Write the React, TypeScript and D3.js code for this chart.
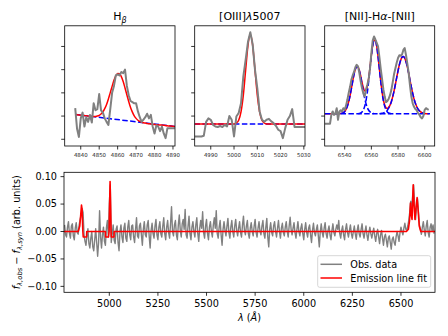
import React from 'react';
import * as d3 from 'd3';

type Pt = [number, number];

const GRAY = '#808080';
const RED = '#ff0000';
const BLUE = '#0000ff';
const FONT = 'DejaVu Sans, Verdana, sans-serif';

// ---------- H-beta window (1 A pixels from hbStart) ----------
const hbStart = 4837;
const hbObs = [
  1.34, 0.45, 0.1, 0.9, 1.15, 0.55, 0.95, 0.75, 1.05, 0.72,
  1.55, 1.25, 1.3, 1.95, 1.25, 1.15, 0.9, 0.75, 0.62, 1.3,
  2.0, 2.3, 2.75, 2.8, 2.75, 2.9, 2.85, 3.0, 2.3, 1.9,
  1.65, 1.6, 1.55, 1.55, 1.2, 0.95, 0.75, 0.85, 0.95, 1.1,
  0.9, 1.05, 0.55, 0.25, 0.6, 0.55, 0.35, 0.55, 0.25, 0.05,
  0.48, 0.48, 0.48, 0.48, 0.48,
];
const hbFit = [
  1.07, 1.06, 1.05, 1.04, 1.03, 1.02, 1.01, 1.0, 0.99, 0.985,
  0.98, 0.985, 1.0, 1.03, 1.09, 1.18, 1.32, 1.5, 1.74, 2.01,
  2.28, 2.54, 2.73, 2.83, 2.82, 2.7, 2.49, 2.21, 1.92, 1.63,
  1.37, 1.17, 1.01, 0.9, 0.82, 0.77, 0.73, 0.71, 0.7, 0.68,
  0.67, 0.66, 0.65, 0.64, 0.63, 0.62, 0.62, 0.61, 0.6, 0.59,
  0.58, 0.57, 0.57, 0.56, 0.55,
];
const hbContWave = [4837, 4891];
const hbCont = [1.07, 0.55];
const hbTicks = [4840, 4850, 4860, 4870, 4880, 4890];

// ---------- [OIII] 5007 window ----------
const o3Start = 4983;
const o3Obs = [
  0.12, 0.12, 0.12, 0.12, 0.15, 0.75, 0.9, 0.84,
  0.62, 0.55, 0.53, 0.57, 0.53, 0.62, 0.55, 1.0, 0.84, 0.12,
  0.98, 1.13, 1.55, 2.71, 3.43, 4.2, 4.61, 4.1, 3.0, 2.2,
  1.2, 0.84, 0.75, 0.84, 0.88, 0.77, 0.7, 0.58, 0.41, 0.35,
  0.05, 0.48, 0.84, 1.0, 1.3, 0.53, 0.53, 0.53, 0.53, 0.53, 0.53,
];
const o3Fit = [
  0.655, 0.655, 0.655, 0.655, 0.655, 0.655, 0.655, 0.655, 0.655,
  0.655, 0.655, 0.655, 0.655, 0.655, 0.655, 0.655, 0.655,
  0.66, 0.7, 0.82, 1.18, 1.9, 2.99, 4.05, 4.51, 4.05, 2.99, 1.9, 1.18, 0.82, 0.7, 0.66,
  0.655, 0.655, 0.655, 0.655, 0.655, 0.655, 0.655, 0.655, 0.655,
  0.655, 0.655, 0.655, 0.655, 0.655, 0.655, 0.655, 0.655,
];
const o3ContWave = [4983, 5031];
const o3Cont = [0.655, 0.655];
const o3Ticks = [4990, 5000, 5010, 5020, 5030];

// ---------- [NII]-Halpha-[NII] window ----------
const haStart = 6525;
const haObs = [
  0.67, 0.67, 0.67, 0.67, 0.67,
  1.06, 1.2, 1.05, 1.1, 1.34, 0.84, 1.2, 1.25, 1.2, 1.34,
  1.27, 1.45, 1.7, 2.0, 2.25, 2.56, 2.75, 2.9, 3.1, 3.21,
  3.14, 2.85, 2.5, 2.2, 1.97, 1.84, 2.15, 2.35, 2.6, 3.05,
  3.71, 4.25, 4.43, 4.3, 4.15, 4.0, 3.55, 3.05, 2.6, 2.15,
  1.84, 1.6, 1.65, 1.75, 1.9, 2.13, 2.45, 2.8, 3.05, 3.3,
  3.5, 3.62, 3.6, 3.65, 3.85, 3.93, 3.62, 3.25, 2.85, 2.3,
  1.84, 1.55, 1.4, 1.3, 1.25, 1.13, 1.06, 0.95, 0.9, 1.0,
  1.27, 1.34, 1.3, 1.27,
];
const haFit = [
  1.1, 1.1, 1.1, 1.1, 1.1, 1.1, 1.1, 1.1, 1.1, 1.1, 1.1, 1.1,
  1.11, 1.125, 1.15, 1.2, 1.29, 1.42, 1.62, 1.87, 2.18, 2.5,
  2.8, 3.02, 3.13, 3.12, 2.96, 2.73, 2.45, 2.22, 2.08, 2.1,
  2.29, 2.65, 3.12, 3.61, 4.03, 4.27, 4.26, 4.01, 3.57, 3.04,
  2.51, 2.05, 1.7, 1.48, 1.36, 1.33, 1.38, 1.47, 1.63, 1.83,
  2.08, 2.36, 2.66, 2.95, 3.21, 3.41, 3.54, 3.57, 3.5, 3.34,
  3.11, 2.84, 2.54, 2.25, 1.98, 1.74, 1.55, 1.41, 1.3, 1.225,
  1.176, 1.144, 1.124, 1.113, 1.105, 1.1, 1.1,
];
const haContWave = [6525, 6604];
const haCont = [1.1, 1.1];
const n2aStart = 6537;
const n2aComp = [
  1.111, 1.125, 1.152, 1.2, 1.29, 1.42, 1.62, 1.87, 2.18, 2.5, 2.8, 3.02, 3.13,
  3.11, 2.95, 2.69, 2.37, 2.05, 1.76, 1.53, 1.36, 1.25, 1.18, 1.14, 1.118, 1.108,
];
const haCompStart = 6550;
const haComp = [
  1.105, 1.114, 1.135, 1.18, 1.267, 1.42, 1.67, 2.03, 2.5, 3.04, 3.57, 4.01, 4.26,
  4.26, 4.01, 3.57, 3.04, 2.5, 2.03, 1.67, 1.42, 1.267, 1.18, 1.135, 1.114, 1.105,
];
const n2bStart = 6566;
const n2bComp = [
  1.104, 1.109, 1.117, 1.131, 1.155, 1.193, 1.253, 1.34, 1.46, 1.62, 1.83, 2.08,
  2.36, 2.66, 2.95, 3.21, 3.41, 3.54, 3.57, 3.5, 3.34, 3.11, 2.84, 2.54, 2.25,
  1.98, 1.74, 1.55, 1.41, 1.3, 1.225, 1.176, 1.144, 1.124, 1.113,
];
const haTicks = [6540, 6560, 6580, 6600];

// ---------- residual spectrum (5 A steps from resStart) ----------
const resStart = 4770;
const resStep = 5;
const resObs = [
  0.012, -0.006, -0.01, 0.008, 0.018, -0.004, -0.012, 0.01, 0.014, -0.008, -0.015, 0.006, 0.016, -0.002, -0.005, 0.012, 0.022, 0.03, 0.042, 0.035,
  -0.005, -0.018, -0.025, -0.008, 0.005, -0.022, -0.03, -0.012, 0.0, -0.028, -0.035, -0.015, 0.005, -0.02, -0.045, -0.02, 0.038, -0.01, -0.03, -0.006,
  0.008, -0.018, -0.025, 0.006, 0.02, -0.01, 0.05, 0.085, -0.02, -0.005, 0.012, -0.016, -0.022, 0.004, 0.01, -0.02, -0.035, 0.0, 0.012, -0.01,
  -0.02, 0.006, 0.015, -0.012, -0.018, 0.008, 0.02, -0.006, -0.015, 0.01, 0.012, -0.01, -0.02, 0.004, 0.025, -0.008, -0.012, 0.01, 0.015, -0.006,
  -0.025, 0.004, 0.018, -0.006, -0.01, 0.012, 0.02, -0.008, -0.03, 0.002, 0.015, -0.004, -0.012, 0.01, 0.022, -0.006, -0.015, 0.008, 0.018, -0.004,
  -0.01, 0.01, 0.025, -0.004, -0.015, 0.008, 0.02, -0.002, -0.012, 0.014, 0.045, 0.0, -0.008, 0.012, 0.02, -0.006, -0.015, 0.012, 0.03, 0.002,
  -0.01, 0.014, 0.022, 0.004, 0.04, -0.006, -0.012, 0.01, 0.028, -0.004, -0.015, 0.008, 0.018, 0.0, -0.01, 0.012, 0.025, -0.004, -0.018, 0.006,
  0.02, 0.006, 0.036, -0.002, -0.012, 0.01, 0.022, -0.004, -0.015, 0.008, 0.018, 0.0, -0.01, 0.012, 0.025, 0.006, 0.038, -0.004, -0.012, 0.008,
  0.02, -0.006, -0.025, 0.004, 0.018, 0.002, -0.008, 0.01, 0.024, -0.002, -0.012, 0.008, 0.02, 0.0, -0.01, 0.01, 0.022, 0.002, -0.008, 0.006,
  0.018, -0.002, -0.01, 0.012, 0.028, 0.002, -0.006, 0.01, 0.02, -0.004, -0.012, 0.006, 0.016, 0.0, -0.008, 0.01, 0.022, -0.002, -0.01, 0.006,
  0.018, 0.0, -0.006, 0.01, 0.02, -0.004, -0.012, 0.008, 0.024, -0.01, -0.028, 0.004, 0.016, -0.002, -0.008, 0.01, 0.018, 0.0, -0.01, 0.006,
  0.02, 0.0, -0.012, 0.006, 0.015, -0.002, -0.008, 0.008, 0.018, 0.0, -0.01, 0.01, 0.026, 0.004, -0.006, 0.006, 0.016, -0.002, -0.012, 0.004,
  0.018, 0.0, -0.008, 0.006, 0.014, -0.004, -0.015, 0.004, 0.016, -0.002, -0.01, 0.006, 0.012, -0.006, -0.02, 0.002, 0.015, -0.002, -0.008, 0.004,
  0.012, -0.008, -0.028, 0.0, 0.014, -0.002, -0.01, 0.006, 0.016, -0.004, -0.012, 0.002, 0.01, -0.006, -0.015, 0.002, 0.014, -0.002, -0.008, 0.004,
  0.012, 0.004, 0.02, -0.004, -0.012, 0.002, 0.01, -0.006, -0.015, 0.004, 0.014, -0.002, -0.01, 0.002, 0.012, -0.004, -0.012, 0.0, 0.01, -0.004,
  -0.014, 0.002, 0.012, -0.004, -0.01, 0.004, 0.014, -0.004, -0.012, 0.0, 0.01, -0.006, -0.016, -0.002, 0.008, -0.004, -0.012, -0.002, 0.006, -0.008,
  -0.018, -0.004, 0.004, -0.01, -0.022, -0.006, 0.002, -0.012, -0.025, -0.01, -0.005, -0.016, -0.028, -0.012, -0.008, -0.02, -0.032, -0.014, -0.01, -0.02,
  -0.025, -0.01, 0.0, -0.008, -0.018, -0.002, 0.008, 0.0, -0.006, 0.006, 0.015, 0.004, 0.002, 0.01, 0.02, 0.035, 0.055, 0.04, 0.065, 0.085,
  0.05, 0.022, 0.045, 0.06, 0.035, 0.012, 0.004, -0.005, 0.008, 0.018, 0.002, -0.008, 0.01, 0.02, -0.002, -0.01, 0.008, 0.014, 0.0, 0.012,
  -0.004,
];
const resFitWave = [
  4767, 4840, 4848, 4853, 4857, 4860, 4864, 4866, 4883, 4884,
  4980, 4981, 4996, 4999, 5001, 5004, 5007, 5009, 5010, 5024, 5025,
  6528, 6538, 6544, 6549, 6553, 6557, 6560, 6563, 6567, 6572, 6577, 6583, 6588, 6594, 6602, 6675,
];
const resFit = [
  0, 0, 0.01, 0.03, 0.048, 0.04, 0, -0.01, -0.01, 0,
  0, -0.01, -0.01, 0, 0.04, 0.091, 0.04, 0, -0.01, -0.01, 0,
  0, 0.004, 0.02, 0.052, 0.03, 0.022, 0.055, 0.085, 0.05, 0.022, 0.042, 0.062, 0.04, 0.01, 0, 0,
];
const resXTicks = [5000, 5250, 5500, 5750, 6000, 6250, 6500];
const resYTicks = [-0.1, -0.05, 0, 0.05, 0.1];

const seq = (start: number, vals: number[], step = 1): Pt[] =>
  vals.map((v, i) => [start + i * step, v]);
const pairs = (w: number[], f: number[]): Pt[] => w.map((x, i) => [x, f[i]]);

// shared vertical scale of the three zoom windows (arbitrary units, unlabeled ticks)
const TOP_Y0 = 25.8;
const TOP_Y1 = 146;
const topY = d3.scaleLinear().domain([-0.29, 4.89]).range([TOP_Y1, TOP_Y0]);
const topYTicks = [0, 1, 2, 3, 4];

type Layer = { pts: Pt[]; color: string; width: number; dash?: string; smooth?: boolean };

function Window(props: {
  id: string;
  left: number;
  right: number;
  domain: [number, number];
  ticks: number[];
  title: React.ReactNode;
  layers: Layer[];
}) {
  const { id, left, right, domain, ticks, title, layers } = props;
  const x = d3.scaleLinear().domain(domain).range([left, right]);
  const lin = d3.line<Pt>().x(d => x(d[0])).y(d => topY(d[1]));
  const smooth = d3.line<Pt>().x(d => x(d[0])).y(d => topY(d[1])).curve(d3.curveMonotoneX);
  return (
    <g>
      <clipPath id={id}>
        <rect x={left} y={TOP_Y0} width={right - left} height={TOP_Y1 - TOP_Y0} />
      </clipPath>
      <g clipPath={`url(#${id})`} fill="none" strokeLinejoin="round">
        {layers.map((l, i) => (
          <path
            key={i}
            d={(l.smooth ? smooth : lin)(l.pts) || ''}
            stroke={l.color}
            strokeWidth={l.width}
            strokeDasharray={l.dash}
          />
        ))}
      </g>
      <rect x={left} y={TOP_Y0} width={right - left} height={TOP_Y1 - TOP_Y0} fill="none" stroke="#000" strokeWidth={0.8} />
      {topYTicks.map(t => (
        <line key={t} x1={left} x2={left - 3.5} y1={topY(t)} y2={topY(t)} stroke="#000" strokeWidth={0.8} />
      ))}
      {ticks.map(t => (
        <g key={t}>
          <line x1={x(t)} x2={x(t)} y1={TOP_Y1} y2={TOP_Y1 + 3.5} stroke="#000" strokeWidth={0.8} />
          <text x={x(t)} y={157.3} fontSize={5.4} textAnchor="middle" fill="#222">
            {t}
          </text>
        </g>
      ))}
      <text x={(left + right) / 2} y={20} fontSize={11} textAnchor="middle">
        {title}
      </text>
    </g>
  );
}

function Residual() {
  const L = 64, R = 435, T = 172.3, B = 292.3;
  const x = d3.scaleLinear().domain([4767, 6675]).range([L, R]);
  const y = d3.scaleLinear().domain([-0.1108, 0.1079]).range([B, T]);
  const line = d3.line<Pt>().x(d => x(d[0])).y(d => y(d[1]));
  const fmt = d3.format('.2f');
  return (
    <g>
      <clipPath id="clip-res">
        <rect x={L} y={T} width={R - L} height={B - T} />
      </clipPath>
      <g clipPath="url(#clip-res)" fill="none" strokeLinejoin="round">
        <path d={line(seq(resStart, resObs, resStep)) || ''} stroke={GRAY} strokeWidth={1.4} />
        <path d={line(pairs(resFitWave, resFit)) || ''} stroke={RED} strokeWidth={1.6} />
      </g>
      <rect x={L} y={T} width={R - L} height={B - T} fill="none" stroke="#000" strokeWidth={0.8} />
      {resXTicks.map(t => (
        <g key={t}>
          <line x1={x(t)} x2={x(t)} y1={B} y2={B + 3.5} stroke="#000" strokeWidth={0.8} />
          <text x={x(t)} y={306.6} fontSize={9.7} textAnchor="middle">
            {t}
          </text>
        </g>
      ))}
      {resYTicks.map(t => (
        <g key={t}>
          <line x1={L} x2={L - 3.5} y1={y(t)} y2={y(t)} stroke="#000" strokeWidth={0.8} />
          <text x={L - 7} y={y(t)} dy="0.35em" fontSize={9.7} textAnchor="end">
            {fmt(t).replace('-', '\u2212')}
          </text>
        </g>
      ))}
      <text x={(L + R) / 2} y={321} fontSize={9.7} textAnchor="middle">
        <tspan fontStyle="italic">λ</tspan>
        <tspan> (</tspan>
        <tspan fontStyle="italic">Å</tspan>
        <tspan>)</tspan>
      </text>
      <text transform={`translate(19.5,${(T + B) / 2}) rotate(-90)`} fontSize={9.7} textAnchor="middle">
        <tspan fontStyle="italic">f</tspan>
        <tspan fontStyle="italic" fontSize={6.8} dy={2.4}>λ,obs</tspan>
        <tspan dy={-2.4}> − </tspan>
        <tspan fontStyle="italic">f</tspan>
        <tspan fontStyle="italic" fontSize={6.8} dy={2.4}>λ,syn</tspan>
        <tspan dy={-2.4}> (arb. units)</tspan>
      </text>
      <g>
        <rect x={317.7} y={255.7} width={113} height={31.6} rx={2} fill="#fff" fillOpacity={0.8} stroke="#cccccc" strokeWidth={0.8} />
        <line x1={320.5} x2={342} y1={264.3} y2={264.3} stroke={GRAY} strokeWidth={1.5} />
        <text x={350.3} y={267.8} fontSize={9.7}>Obs. data</text>
        <line x1={320.5} x2={342} y1={278} y2={278} stroke={RED} strokeWidth={1.5} />
        <text x={350.3} y={281.5} fontSize={9.7}>Emission line fit</text>
      </g>
    </g>
  );
}

export default function App() {
  const dash = '5.5 2.4';
  return (
    <svg
      width={448}
      height={336}
      viewBox="0 0 448 336"
      style={{ position: 'fixed', left: 0, top: 0, display: 'block', fontFamily: FONT, background: '#fff' }}
    >
      <Window
        id="clip-hb"
        left={64.7}
        right={175}
        domain={[4831.3, 4891.1]}
        ticks={hbTicks}
        title={
          <>
            <tspan>H</tspan>
            <tspan fontSize={8} fontStyle="italic" dy={2.6}>β</tspan>
          </>
        }
        layers={[
          { pts: pairs(hbContWave, hbCont), color: BLUE, width: 1.5, dash },
          { pts: seq(hbStart, hbFit), color: RED, width: 1.5, smooth: true },
          { pts: seq(hbStart, hbObs), color: GRAY, width: 2 },
        ]}
      />
      <Window
        id="clip-o3"
        left={194.7}
        right={305}
        domain={[4983.1, 5030.5]}
        ticks={o3Ticks}
        title={
          <>
            <tspan>[OIII]</tspan>
            <tspan fontStyle="italic">λ</tspan>
            <tspan>5007</tspan>
          </>
        }
        layers={[
          { pts: pairs(o3ContWave, o3Cont), color: BLUE, width: 1.5, dash },
          { pts: seq(o3Start, o3Fit), color: RED, width: 1.5, smooth: true },
          { pts: seq(o3Start, o3Obs), color: GRAY, width: 2 },
        ]}
      />
      <Window
        id="clip-ha"
        left={324.7}
        right={434.7}
        domain={[6525, 6607.5]}
        ticks={haTicks}
        title={
          <>
            <tspan>[NII]-H</tspan>
            <tspan fontStyle="italic">α</tspan>
            <tspan>-[NII]</tspan>
          </>
        }
        layers={[
          { pts: seq(haStart, haFit), color: RED, width: 1.5, smooth: true },
          { pts: pairs(haContWave, haCont), color: BLUE, width: 1.5, dash },
          { pts: seq(n2aStart, n2aComp), color: BLUE, width: 1.5, dash, smooth: true },
          { pts: seq(haCompStart, haComp), color: BLUE, width: 1.5, dash, smooth: true },
          { pts: seq(n2bStart, n2bComp), color: BLUE, width: 1.5, dash, smooth: true },
          { pts: seq(haStart, haObs), color: GRAY, width: 2 },
        ]}
      />
      <Residual />
    </svg>
  );
}
